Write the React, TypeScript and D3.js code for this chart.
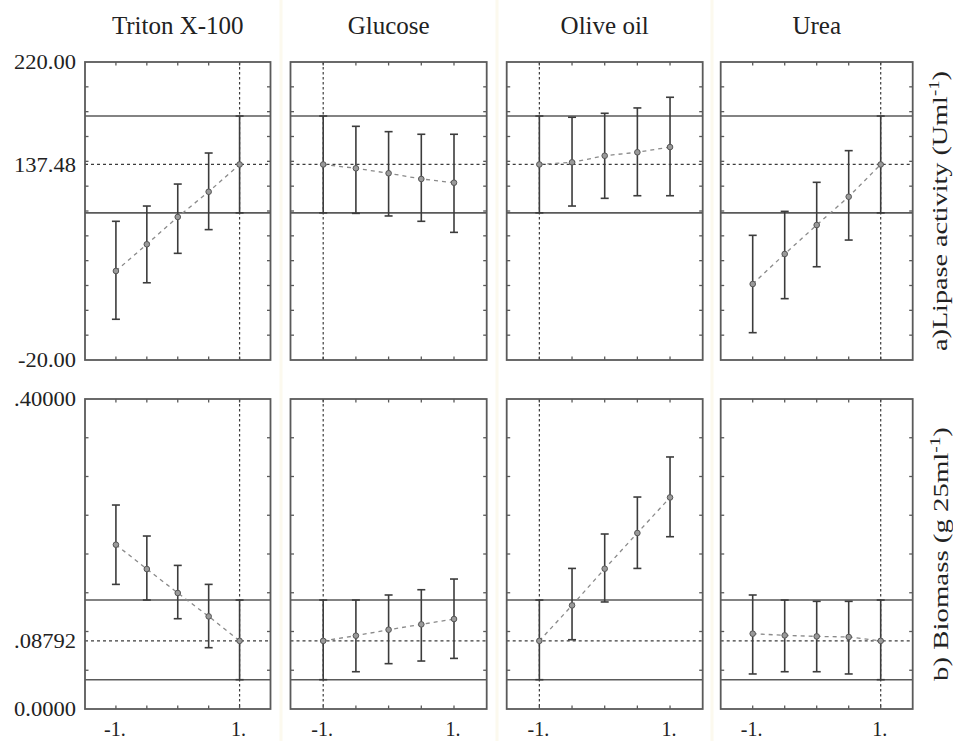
import * as d3 from "d3";
import React from "react";

// factors and the coded levels used for every panel
const factors = ["Triton X-100", "Glucose", "Olive oil", "Urea"];
const levels = [-1, -0.5, 0, 0.5, 1];
const optimumLevel = [1, -1, -1, 1];

// a) lipase activity (U ml-1)
const lipaseMean = [
  [51.7, 73.2, 95.2, 115.5, 137.48],
  [137.48, 134.4, 130.4, 125.8, 122.8],
  [137.48, 139.2, 144.5, 147.3, 151.5],
  [41.2, 65.4, 88.7, 111.5, 137.48],
];
const lipaseUpper = [
  [91.7, 104.0, 121.7, 146.7, 176.5],
  [176.5, 168.2, 163.9, 161.8, 161.8],
  [176.5, 175.5, 178.7, 183.0, 191.6],
  [80.4, 99.7, 123.1, 148.6, 176.5],
];
const lipaseLower = [
  [12.8, 42.2, 65.9, 85.0, 98.5],
  [98.5, 98.1, 96.0, 91.7, 82.8],
  [98.5, 104.0, 110.2, 112.3, 112.3],
  [2.0, 29.4, 55.1, 76.6, 98.5],
];
const lipasePredicted = 137.48;
const lipaseBand = [98.5, 176.5];
const lipaseDomain = [-20, 220];
const lipaseTicks = [
  { v: 220, label: "220.00" },
  { v: 137.48, label: "137.48" },
  { v: -20, label: "-20.00" },
];

// b) biomass (g 25ml-1)
const biomassMean = [
  [0.212, 0.1806, 0.1497, 0.1195, 0.08792],
  [0.08792, 0.0946, 0.1023, 0.1092, 0.1161],
  [0.08792, 0.1337, 0.181, 0.2271, 0.273],
  [0.0972, 0.095, 0.0937, 0.0929, 0.08792],
];
const biomassUpper = [
  [0.2632, 0.2232, 0.1853, 0.1608, 0.1406],
  [0.1406, 0.1406, 0.1471, 0.1539, 0.1677],
  [0.1406, 0.1814, 0.2258, 0.2735, 0.3252],
  [0.1471, 0.1406, 0.1389, 0.1389, 0.1406],
];
const biomassLower = [
  [0.1608, 0.1406, 0.1165, 0.0791, 0.0378],
  [0.0378, 0.0481, 0.0585, 0.0619, 0.0653],
  [0.0378, 0.0894, 0.1381, 0.1814, 0.2223],
  [0.0452, 0.0481, 0.0481, 0.0452, 0.0378],
];
const biomassPredicted = 0.08792;
const biomassBand = [0.0378, 0.1406];
const biomassDomain = [0, 0.4];
const biomassTicks = [
  { v: 0.4, label: ".40000" },
  { v: 0.08792, label: ".08792" },
  { v: 0, label: "0.0000" },
];

const xTickLabels = [
  { v: -1, label: "-1." },
  { v: 1, label: "1." },
];

// layout
const W = 953;
const H = 741;
const columns = [
  [85, 270.5],
  [290.5, 486.7],
  [506.7, 702.7],
  [720.7, 912.7],
];
const FONT = "'Liberation Serif', 'Times New Roman', serif";
const FRAME = "#5a5a5a";
const INK = "#3c3c3c";

const rows = [
  {
    mean: lipaseMean,
    upper: lipaseUpper,
    lower: lipaseLower,
    predicted: lipasePredicted,
    band: lipaseBand,
    domain: lipaseDomain,
    ticks: lipaseTicks,
    step: 20,
    top: 62,
    bottom: 360,
    label: "a)Lipase activity (Uml",
    labelLen: 280,
    labelX: 947,
  },
  {
    mean: biomassMean,
    upper: biomassUpper,
    lower: biomassLower,
    predicted: biomassPredicted,
    band: biomassBand,
    domain: biomassDomain,
    ticks: biomassTicks,
    step: 0.05,
    top: 399,
    bottom: 709,
    label: "b) Biomass (g 25ml",
    labelLen: 254,
    labelX: 948,
  },
];

function Panel({ row, col, showX }) {
  const [x0, x1] = columns[col];
  const x = d3.scaleLinear().domain([-1.5, 1.5]).range([x0, x1]);
  const y = d3.scaleLinear().domain(row.domain).range([row.bottom, row.top]);
  const mean = row.mean[col];
  const upper = row.upper[col];
  const lower = row.lower[col];

  const line = d3
    .line()
    .x((d) => x(d[0]))
    .y((d) => y(d[1]));
  const pts = levels.map((l, i) => [l, mean[i]]);

  const n = Math.round((row.domain[1] - row.domain[0]) / row.step);
  const yTicks = d3.range(1, n).map((i) => row.domain[0] + i * row.step);
  const xTicks = levels;
  const tl = 3.5;

  return (
    <g>
      {/* inner ticks */}
      {yTicks.map((v, i) => (
        <g key={"y" + i} stroke={FRAME} strokeWidth={1.3}>
          <line x1={x0} x2={x0 + tl} y1={y(v)} y2={y(v)} />
          <line x1={x1} x2={x1 - tl} y1={y(v)} y2={y(v)} />
        </g>
      ))}
      {xTicks.map((v, i) => (
        <g key={"x" + i} stroke={FRAME} strokeWidth={1.3}>
          <line x1={x(v)} x2={x(v)} y1={row.top} y2={row.top + tl} />
          <line x1={x(v)} x2={x(v)} y1={row.bottom} y2={row.bottom - tl} />
        </g>
      ))}
      {/* confidence band of the prediction */}
      {row.band.map((v, i) => (
        <line
          key={"b" + i}
          x1={x0}
          x2={x1}
          y1={y(v)}
          y2={y(v)}
          stroke={FRAME}
          strokeWidth={1.6}
        />
      ))}
      {/* predicted value and current level */}
      <line
        x1={x0}
        x2={x1}
        y1={y(row.predicted)}
        y2={y(row.predicted)}
        stroke={INK}
        strokeWidth={1.2}
        strokeDasharray="3,3"
      />
      <line
        x1={x(optimumLevel[col])}
        x2={x(optimumLevel[col])}
        y1={row.top}
        y2={row.bottom}
        stroke={INK}
        strokeWidth={1.2}
        strokeDasharray="2.5,2.5"
      />
      {/* profile line */}
      <path
        d={line(pts)}
        fill="none"
        stroke="#8a8a8a"
        strokeWidth={1.3}
        strokeDasharray="4,4"
      />
      {/* error bars */}
      {levels.map((l, i) => (
        <g key={"e" + i} stroke={INK} strokeWidth={1.6}>
          <line x1={x(l)} x2={x(l)} y1={y(upper[i])} y2={y(lower[i])} />
          <line x1={x(l) - 4} x2={x(l) + 4} y1={y(upper[i])} y2={y(upper[i])} />
          <line x1={x(l) - 4} x2={x(l) + 4} y1={y(lower[i])} y2={y(lower[i])} />
        </g>
      ))}
      {pts.map((p, i) => (
        <circle
          key={"p" + i}
          cx={x(p[0])}
          cy={y(p[1])}
          r={2.8}
          fill="#9a9a9a"
          stroke="#555"
          strokeWidth={1}
        />
      ))}
      {/* frame */}
      <rect
        x={x0}
        y={row.top}
        width={x1 - x0}
        height={row.bottom - row.top}
        fill="none"
        stroke={FRAME}
        strokeWidth={1.8}
      />
      {showX &&
        xTickLabels.map((t) => (
          <text
            key={t.label}
            x={x(t.v) - 1}
            y={736}
            textAnchor="middle"
            fontSize={20}
            fontFamily={FONT}
            fill="#222"
          >
            {t.label}
          </text>
        ))}
    </g>
  );
}

export default function App() {
  return (
    <svg
      width={W}
      height={H}
      viewBox={`0 0 ${W} ${H}`}
      style={{ position: "absolute", left: 0, top: 0, background: "#fff" }}
    >
      <rect width={W} height={H} fill="#fff" />
      {/* faint seams between the pasted columns */}
      {[281, 497, 712].map((sx) => (
        <line key={sx} x1={sx} x2={sx} y1={0} y2={H} stroke="#fcf9ee" strokeWidth={3} />
      ))}
      {factors.map((f, c) => (
        <text
          key={f}
          x={(columns[c][0] + columns[c][1]) / 2}
          y={34}
          textAnchor="middle"
          fontSize={25}
          fontFamily={FONT}
          fill="#222"
        >
          {f}
        </text>
      ))}
      {rows.map((row, r) => {
        const y = d3.scaleLinear().domain(row.domain).range([row.bottom, row.top]);
        const cy = (row.top + row.bottom) / 2;
        return (
          <g key={r}>
            {factors.map((f, c) => (
              <Panel key={f} row={row} col={c} showX={r === 1} />
            ))}
            {row.ticks.map((t) => (
              <text
                key={t.label}
                x={76 - (t.label.startsWith("-") ? 58 : 62)}
                y={y(t.v)}
                dy="0.36em"
                fontSize={20}
                fontFamily={FONT}
                fill="#222"
                textLength={t.label.startsWith("-") ? 58 : 62}
                lengthAdjust="spacingAndGlyphs"
              >
                {t.label}
              </text>
            ))}
            <text
              transform={`translate(${row.labelX},${cy}) rotate(-90)`}
              textAnchor="middle"
              fontSize={21}
              fontFamily={FONT}
              fill="#222"
              textLength={row.labelLen}
              lengthAdjust="spacingAndGlyphs"
            >
              {row.label}
              <tspan fontSize={14} dy={-8}>
                -1
              </tspan>
              <tspan dy={8}>)</tspan>
            </text>
          </g>
        );
      })}
    </svg>
  );
}
